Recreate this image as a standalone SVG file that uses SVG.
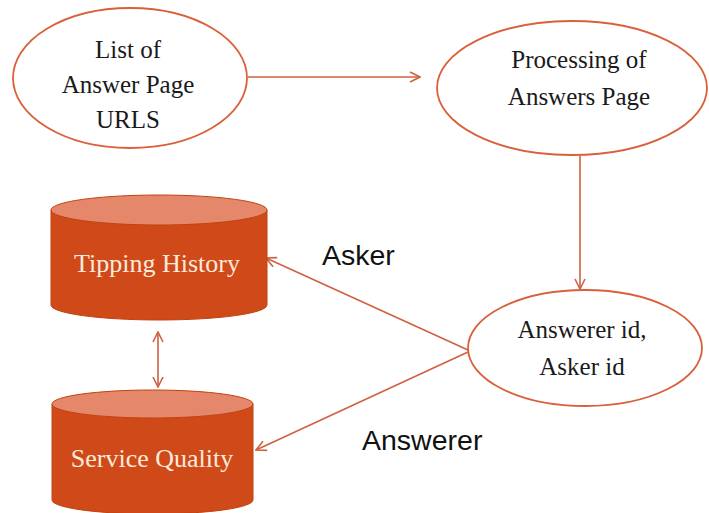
<svg xmlns="http://www.w3.org/2000/svg" width="709" height="513" viewBox="0 0 709 513">
<style>
.ell{fill:#fff;stroke:#D9603B;stroke-width:1.8}
.body{fill:#D04A19;stroke:#C0430F;stroke-width:1}
.top{fill:#E4876A;stroke:#C0430F;stroke-width:1}
.t{font-family:"Liberation Serif",serif;font-size:25px;fill:#1a1a1a;text-anchor:middle}
.w{font-family:"Liberation Serif",serif;font-size:26px;fill:#FCEBDD;text-anchor:middle}
.lab{font-family:"Liberation Sans",Arial,sans-serif;font-size:28.5px;fill:#111}
.c{stroke:#D0603F;stroke-width:1.6;fill:none}
</style>
<defs>
<marker id="ah" viewBox="0 0 12 12" refX="11" refY="6" markerWidth="12" markerHeight="12" markerUnits="userSpaceOnUse" orient="auto-start-reverse">
<path d="M1,1 L11,6 L1,11" fill="none" stroke="#D0603F" stroke-width="1.6"/>
</marker>
</defs>
<rect width="709" height="513" fill="#fff"/>
<g id="connectors">
<line class="c" x1="248" y1="77" x2="420" y2="77" marker-end="url(#ah)"/>
<line class="c" x1="580" y1="156" x2="580" y2="289" marker-end="url(#ah)"/>
<line class="c" x1="468" y1="350" x2="266" y2="258" marker-end="url(#ah)"/>
<line class="c" x1="468" y1="352" x2="256" y2="450" marker-end="url(#ah)"/>
<line class="c" x1="158" y1="332" x2="158" y2="387" marker-start="url(#ah)" marker-end="url(#ah)"/>
</g>
<g id="list-urls">
<ellipse class="ell" cx="130" cy="78" rx="117" ry="70"/>
<text class="t" x="128" y="58">List of</text>
<text class="t" x="128" y="93">Answer Page</text>
<text class="t" x="128" y="128">URLS</text>
</g>
<g id="processing">
<ellipse class="ell" cx="572" cy="88" rx="135" ry="67"/>
<text class="t" x="579" y="68">Processing of</text>
<text class="t" x="579" y="105">Answers Page</text>
</g>
<g id="ids">
<ellipse class="ell" cx="585" cy="348" rx="117" ry="58"/>
<text class="t" x="582" y="338">Answerer id,</text>
<text class="t" x="582" y="375">Asker id</text>
</g>
<g id="tipping-history">
<path class="body" d="M51,210 L51,305 A108,15 0 0 0 267,305 L267,210 Z"/>
<ellipse class="top" cx="159" cy="210" rx="108" ry="15"/>
<text class="w" x="157" y="272">Tipping History</text>
</g>
<g id="service-quality">
<path class="body" d="M52,404 L52,500 A100.5,14 0 0 0 253,500 L253,404 Z"/>
<ellipse class="top" cx="152.5" cy="404" rx="100.5" ry="14"/>
<text class="w" x="152" y="467">Service Quality</text>
</g>
<text class="lab" x="322" y="265">Asker</text>
<text class="lab" x="362" y="450">Answerer</text>
</svg>
